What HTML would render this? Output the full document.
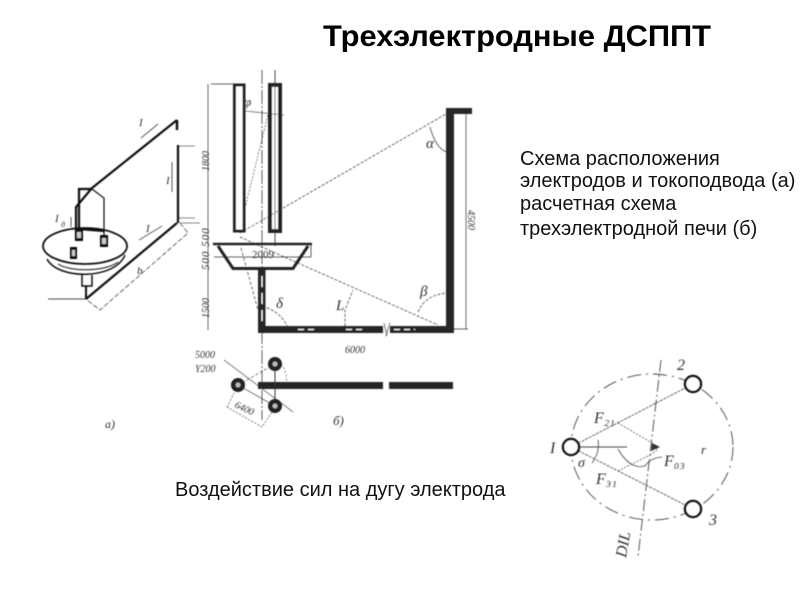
<!DOCTYPE html>
<html><head><meta charset="utf-8"><style>
html,body{margin:0;padding:0;background:#fff}
svg{display:block;font-family:"Liberation Sans",sans-serif}
.s{font-family:"Liberation Serif",serif;font-style:italic;fill:#333}
</style></head><body>
<svg width="800" height="600" viewBox="0 0 800 600" xmlns="http://www.w3.org/2000/svg">
<defs><filter id="b" x="0" y="0" width="100%" height="100%" filterUnits="userSpaceOnUse"><feGaussianBlur stdDeviation="0.45"/></filter></defs>
<rect width="800" height="600" fill="#fff"/>
<text x="323" y="46" font-size="29.500" font-weight="bold" fill="#000" textLength="388" lengthAdjust="spacingAndGlyphs">Трехэлектродные ДСППТ</text>
<g font-size="20" fill="#111">
<text x="520" y="165">Схема расположения</text>
<text x="520" y="187">электродов и токоподвода (а)</text>
<text x="520" y="210">расчетная схема</text>
<text x="520" y="235">трехэлектродной печи (б)</text>
<text x="175" y="496">Воздействие сил на дугу электрода</text>
</g>

<g filter="url(#b)">
<!-- a) isometric -->
<g fill="none" stroke="#111">
<path d="M177 120L92 188" stroke-width="2.200"/>
<path d="M177 120V130" stroke-width="2.500"/>
<path d="M178 145V223" stroke-width="2.200"/>
<path d="M177 223L86 299" stroke-width="2.200"/>
<path d="M92 188L76 207V240" stroke-width="2.200"/>
<path d="M92 189H79V229" stroke-width="2.200"/>
<path d="M92 189L104 198V240" stroke-width="1.200"/>
<path d="M79 229L104 231" stroke-width="2.200"/>
<ellipse cx="85" cy="246" rx="42" ry="18" stroke-width="1.800"/>
<path d="M47 259C58 280 115 280 125 255" stroke-width="1.500"/>
<path d="M58 264C70 272 105 272 118 262" stroke-width="1"/>
<path d="M82 275V286H92V275" stroke-width="1.500"/>
<path d="M86 286V299" stroke-width="2"/>
<path d="M48 299H86" stroke-width=".8"/>
<path d="M178 146H195M178 218H195M180 223H200" stroke-width=".6"/>
<path d="M180 223L188 233L100 310L87 300" stroke-width=".6" stroke-dasharray="5 2"/>
<path d="M141 138L158 124M172 162V192M139 240L162 226M71 217V227" stroke-width=".7"/>
</g>
<g fill="#111">
<rect x="75" y="229" width="8" height="12"/><rect x="100" y="235" width="8" height="12"/><rect x="70" y="247" width="7" height="12"/>
</g>
<g fill="#ccc"><rect x="77" y="232" width="4" height="6"/><rect x="102" y="238" width="4" height="6"/><rect x="72" y="250" width="3" height="6"/></g>
<g class="s" font-size="11">
<text x="139" y="126">I</text><text x="166" y="184">I</text><text x="146" y="232">I</text><text x="55" y="222">I</text><text x="61" y="227" font-size="8">д</text><text x="137" y="274">b</text>
</g>

<!-- b) electrodes -->
<g fill="#fff" stroke="#222">
<rect x="234.500" y="85" width="9.500" height="146" stroke-width="3"/>
<rect x="270" y="85" width="10" height="146" stroke-width="4"/>
</g>
<g fill="none" stroke="#333">
<path d="M275 85V231" stroke-width=".9"/>
<path d="M275 70V85M275 231V246" stroke-width=".9"/>
<path d="M262 70V420" stroke-width=".8" stroke-dasharray="14 2 2 2"/>
<path d="M211 84H234M208 84V330" stroke-width=".7"/>
<path d="M245 111L284 115" stroke-width=".6"/>
<path d="M268 115L245 208" stroke-width=".6" stroke-dasharray="2 1.500"/>
<path d="M240 233L446 114" stroke-width=".7" stroke-dasharray="3 1.500"/>
<path d="M240 237L273 252L438 325" stroke-width=".7" stroke-dasharray="3 1.500"/>
<path d="M241 248L258 310" stroke-width=".7" stroke-dasharray="3 2"/>
<path d="M430 127Q436 149 447 152" stroke-width=".7"/>
<path d="M418 312Q425 295 447 293" stroke-width=".7" stroke-dasharray="3 1.500"/>
<path d="M258 305Q280 310 287 326" stroke-width=".7" stroke-dasharray="3 1.500"/>
<path d="M345 326V310L353 290" stroke-width=".7" stroke-dasharray="3 1.500"/>
<path d="M466 114V329M453 329H468" stroke-width=".7"/>
<path d="M214 257H311" stroke-width=".8"/>
<path d="M311 244V257" stroke-width=".8"/>
</g>
<path d="M213 244H312" stroke="#222" stroke-width="2.500"/>
<path d="M218 246L233 268.500H293L308 246" fill="none" stroke="#222" stroke-width="3"/>
<g fill="#262626">
<rect x="258" y="270" width="7.500" height="63"/>
<rect x="258" y="326" width="125" height="7"/>
<rect x="390" y="326" width="63" height="7"/>
<rect x="446" y="108" width="8" height="225"/>
<rect x="446" y="108" width="26" height="6"/>
<rect x="258" y="382" width="125" height="7"/>
<rect x="389" y="382" width="64" height="7"/>
</g>
<g stroke="#fff" stroke-width="1.300" fill="none">
<path d="M262 276V322" stroke-dasharray="11 6"/>
<path d="M298 329.500H318M346 329.500H366M394 329.500H415" stroke-dasharray="6 4"/>
</g>
<path d="M384 323L387 336M390 323L386 336" stroke="#444" stroke-width=".7" fill="none"/>
<g class="s" font-size="10">
<text x="252" y="258" font-size="11" style="font-style:normal">2009</text>
<text x="345" y="353" font-size="10">6000</text>
<text x="195" y="358" font-size="10">5000</text>
<text x="195" y="372" font-size="10">Y200</text>
<text transform="translate(209 171) rotate(-90)" font-size="10">1800</text>
<text transform="translate(209 270) rotate(-90)" font-size="11" letter-spacing="1">500 500</text>
<text transform="translate(209 318) rotate(-90)" font-size="10">1500</text>
<text transform="translate(468 210) rotate(90)" font-size="10">4500</text>
<text transform="translate(234 407) rotate(25)" font-size="10">6400</text>
<text x="244" y="106" font-size="13">φ</text>
<text x="426" y="148" font-size="15">α</text>
<text x="420" y="296" font-size="15">β</text>
<text x="276" y="308" font-size="15">δ</text>
<text x="336" y="310" font-size="15">L</text>
<text x="105" y="428" font-size="12">а)</text>
<text x="333" y="425" font-size="13">б)</text>
</g>
<g fill="none" stroke="#333">
<path d="M275 364V406" stroke-width="1"/>
<path d="M224 360L293 412" stroke-width=".6"/>
<path d="M238 385L275 364" stroke-width=".6" stroke-dasharray="3 2"/>
<path d="M238 385L275 406" stroke-width=".6"/>
<path d="M227 407L262 427L272 412M227 407L234 393" stroke-width=".6" stroke-dasharray="2 1.500"/>
<path d="M281 364Q288 372 286 384" stroke-width=".6" stroke-dasharray="2 2"/>
</g>
<g fill="#222" stroke="none">
<circle cx="275" cy="364" r="7"/><circle cx="238" cy="385" r="7"/><circle cx="275" cy="406" r="7"/>
</g>
<g fill="#bbb"><circle cx="275" cy="364" r="2.500"/><circle cx="238" cy="385" r="2.500"/><circle cx="275" cy="406" r="2.500"/></g>

<!-- force diagram -->
<g fill="none" stroke="#444">
<ellipse cx="652" cy="447" rx="81" ry="73" stroke-width=".9" stroke-dasharray="14 5 2 5"/>
<path d="M571 447L693 384M571 447L693 509" stroke-width=".8" stroke-dasharray="3 1"/>
<path d="M571 447H627" stroke-width="1"/>
<path d="M661 360L638 557" stroke-width=".9" stroke-dasharray="12 3 2 3"/>
<path d="M618 423L652 443L658 450" stroke-width=".7" stroke-dasharray="2 1.500"/>
<path d="M618 471L650 455M650 455L657 450" stroke-width=".7" stroke-dasharray="2 1.500"/>
<path d="M618 449Q630 470 645 466Q650 458 662 457" stroke-width=".8"/>
<path d="M598 440Q600 452 592 463" stroke-width=".8"/>
</g>
<path d="M652 443L660 447L651 451Z" fill="#333"/>
<circle cx="571" cy="447" r="8" fill="#fff" stroke="#111" stroke-width="2.500"/>
<circle cx="693" cy="384" r="8" fill="#fff" stroke="#111" stroke-width="2.500"/>
<circle cx="693" cy="509" r="8" fill="#fff" stroke="#111" stroke-width="2.500"/>
<g class="s" font-size="16">
<text x="550" y="453">I</text>
<text x="677" y="370">2</text>
<text x="709" y="525">3</text>
<text x="701" y="454" font-size="13">r</text>
<text x="594" y="423">F₂₁</text>
<text x="596" y="484">F₃₁</text>
<text x="664" y="466">F₀₃</text>
<text x="578" y="467" font-size="14">σ</text>
<text transform="translate(626 558) rotate(-80)" font-size="16">DIL</text>
</g>
</g>
</svg>
</body></html>
